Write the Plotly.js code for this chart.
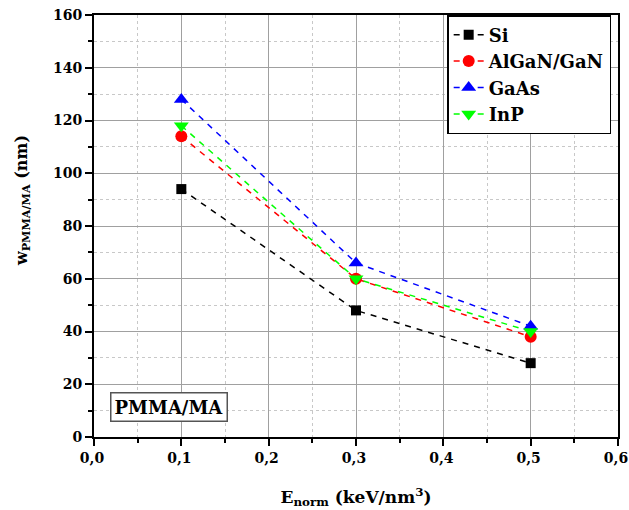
<!DOCTYPE html>
<html><head><meta charset="utf-8">
<script src="https://cdn.plot.ly/plotly-3.0.1.min.js"></script>
<style>body{margin:0;background:#fff}#c{width:629px;height:510px}</style>
</head><body><div id="c"></div>
<script>
const eNorm = [0.1, 0.3, 0.5];
const si = [94, 48, 28];
const algan = [114, 60, 38];
const gaas = [128, 66, 42];
const inp = [118, 60, 40];
const xTickVals = [0, 0.1, 0.2, 0.3, 0.4, 0.5, 0.6];
const xTickText = ['0,0','0,1','0,2','0,3','0,4','0,5','0,6'];

const font = 'DejaVu Serif';
function tr(name, y, color, symbol, size){
  return {x: eNorm, y: y, name: name, type:'scatter', mode:'lines+markers',
    line:{color: color, width:1.5, dash:'6px,6px'},
    marker:{color: color, symbol: symbol, size: size}};
}
const data = [
  tr('Si', si, '#000000', 'square', 10),
  tr('AlGaN/GaN', algan, '#ff0000', 'circle', 12),
  tr('GaAs', gaas, '#0000ff', 'triangle-up', 13),
  tr('InP', inp, '#00ff00', 'triangle-down', 13)
];
const axisCommon = {
  showline:true, linecolor:'#000', linewidth:2, mirror:true,
  ticks:'outside', ticklen:7, tickwidth:2, tickcolor:'#000',
  showgrid:true, gridcolor:'#a0a0a0', gridwidth:1, zeroline:false,
  ticklabeloverflow:'allow',
  tickfont:{family:font, size:14, color:'#000', weight:'bold'}
};
const layout = {
  width:629, height:510,
  margin:{l:94, r:11, t:15, b:73},
  paper_bgcolor:'#fff', plot_bgcolor:'#fff',
  font:{family:font, color:'#000'},
  xaxis: Object.assign({}, axisCommon, {
    range:[0,0.6], tickvals:xTickVals, ticktext:xTickText, ticklabelshift:-2,
    minor:{dtick:0.05, tick0:0, ticks:'outside', ticklen:4, tickwidth:2, tickcolor:'#000', showgrid:true, gridcolor:'#c8c8c8', griddash:'dot', gridwidth:1},
    title:{text:'E<sub>norm</sub> (keV/nm<sup>3</sup>)', font:{family:font, size:17, weight:'bold'}, standoff:26}
  }),
  yaxis: Object.assign({}, axisCommon, {
    range:[0,160], dtick:20,
    minor:{dtick:10, ticks:'outside', ticklen:4, tickwidth:2, tickcolor:'#000', showgrid:true, gridcolor:'#c8c8c8', griddash:'dot', gridwidth:1}
  }),
  legend:{x:0.674, y:1, xanchor:'left', yanchor:'top', bgcolor:'#fff', bordercolor:'#000', borderwidth:1.5,
    font:{family:font, size:18, weight:'bold'}, tracegroupgap:0},
  annotations:[
    {xref:'paper', yref:'paper', x:0.03, y:0.035, xanchor:'left', yanchor:'bottom',
     text:'<b>PMMA/MA</b>', showarrow:false, font:{family:font, size:18, color:'#000'},
     bordercolor:'#555', borderwidth:1.5, borderpad:3, bgcolor:'#fff'},
    {xref:'paper', yref:'paper', x:-0.1374, y:0.559, xanchor:'center', yanchor:'middle', textangle:-90,
     text:'<b>w<sub>PMMA/MA</sub> (nm)</b>', showarrow:false, font:{family:font, size:16, color:'#000'}}
  ],
  showlegend:true
};
Plotly.newPlot('c', data, layout, {displayModeBar:false, staticPlot:true});
</script></body></html>
